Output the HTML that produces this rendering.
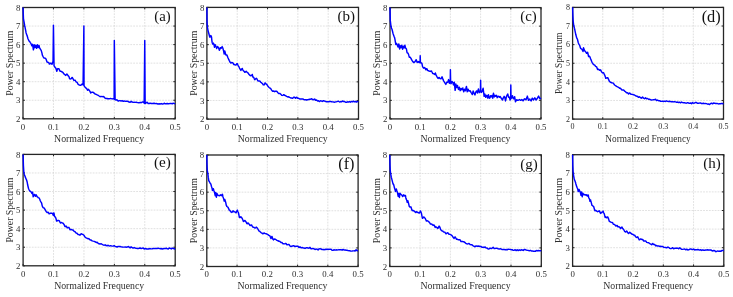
<!DOCTYPE html>
<html><head><meta charset="utf-8"><style>
html,body{margin:0;padding:0;background:#fff;}
svg{display:block;will-change:transform;}
.g{stroke:#cccccc;stroke-width:0.6;stroke-dasharray:1.8 1.1;fill:none;}
.t{stroke:#222;stroke-width:1.0;}
.bx{fill:none;stroke:#262626;stroke-width:1.3;}
.c{fill:none;stroke:#0000ff;stroke-width:1.45;stroke-linejoin:round;}
text{font-family:"Liberation Serif",serif;fill:#2e2e2e;}
.pl{fill:#111;}
</style></head><body>
<svg width="733" height="297" viewBox="0 0 733 297">
<rect width="733" height="297" fill="#fff"/>
<line x1="53.44" y1="7.50" x2="53.44" y2="118.80" class="g"/>
<line x1="83.88" y1="7.50" x2="83.88" y2="118.80" class="g"/>
<line x1="114.32" y1="7.50" x2="114.32" y2="118.80" class="g"/>
<line x1="144.76" y1="7.50" x2="144.76" y2="118.80" class="g"/>
<line x1="23.00" y1="100.25" x2="175.20" y2="100.25" class="g"/>
<line x1="23.00" y1="81.70" x2="175.20" y2="81.70" class="g"/>
<line x1="23.00" y1="63.15" x2="175.20" y2="63.15" class="g"/>
<line x1="23.00" y1="44.60" x2="175.20" y2="44.60" class="g"/>
<line x1="23.00" y1="26.05" x2="175.20" y2="26.05" class="g"/>
<line x1="23.00" y1="118.80" x2="23.00" y2="116.90" class="t"/>
<line x1="23.00" y1="7.50" x2="23.00" y2="9.40" class="t"/>
<line x1="53.44" y1="118.80" x2="53.44" y2="116.90" class="t"/>
<line x1="53.44" y1="7.50" x2="53.44" y2="9.40" class="t"/>
<line x1="83.88" y1="118.80" x2="83.88" y2="116.90" class="t"/>
<line x1="83.88" y1="7.50" x2="83.88" y2="9.40" class="t"/>
<line x1="114.32" y1="118.80" x2="114.32" y2="116.90" class="t"/>
<line x1="114.32" y1="7.50" x2="114.32" y2="9.40" class="t"/>
<line x1="144.76" y1="118.80" x2="144.76" y2="116.90" class="t"/>
<line x1="144.76" y1="7.50" x2="144.76" y2="9.40" class="t"/>
<line x1="175.20" y1="118.80" x2="175.20" y2="116.90" class="t"/>
<line x1="175.20" y1="7.50" x2="175.20" y2="9.40" class="t"/>
<line x1="23.00" y1="118.80" x2="24.90" y2="118.80" class="t"/>
<line x1="175.20" y1="118.80" x2="173.30" y2="118.80" class="t"/>
<line x1="23.00" y1="100.25" x2="24.90" y2="100.25" class="t"/>
<line x1="175.20" y1="100.25" x2="173.30" y2="100.25" class="t"/>
<line x1="23.00" y1="81.70" x2="24.90" y2="81.70" class="t"/>
<line x1="175.20" y1="81.70" x2="173.30" y2="81.70" class="t"/>
<line x1="23.00" y1="63.15" x2="24.90" y2="63.15" class="t"/>
<line x1="175.20" y1="63.15" x2="173.30" y2="63.15" class="t"/>
<line x1="23.00" y1="44.60" x2="24.90" y2="44.60" class="t"/>
<line x1="175.20" y1="44.60" x2="173.30" y2="44.60" class="t"/>
<line x1="23.00" y1="26.05" x2="24.90" y2="26.05" class="t"/>
<line x1="175.20" y1="26.05" x2="173.30" y2="26.05" class="t"/>
<line x1="23.00" y1="7.50" x2="24.90" y2="7.50" class="t"/>
<line x1="175.20" y1="7.50" x2="173.30" y2="7.50" class="t"/>
<rect x="23.00" y="7.50" width="152.20" height="111.30" class="bx"/>
<polyline class="c" points="23.00,7.50 23.49,19.26 24.00,21.68 24.70,25.69 25.00,27.02 25.80,31.21 26.00,32.43 26.80,34.99 27.01,35.30 27.99,38.71 28.01,38.74 29.01,40.96 29.09,41.02 30.01,41.97 30.21,42.37 31.01,43.61 31.01,43.62 31.80,45.87 32.01,45.43 32.59,44.32 33.01,47.27 33.41,49.82 34.01,45.80 34.20,44.77 34.99,47.66 35.02,47.62 35.78,45.16 36.02,45.97 36.61,48.35 37.02,46.69 37.40,44.83 38.02,46.88 38.19,47.62 39.01,45.50 39.02,45.54 39.59,47.85 40.02,48.52 40.41,49.16 41.02,50.20 41.20,50.40 41.99,53.11 42.02,53.27 42.39,55.27 43.03,56.46 43.21,56.87 44.03,57.96 44.80,58.16 45.03,58.12 46.03,59.06 46.50,60.41 47.03,62.01 48.03,62.42 48.60,62.37 49.03,63.16 49.33,64.03 50.04,63.74 50.70,63.15 51.04,63.37 52.01,64.33 52.04,64.26 52.71,61.98 53.04,62.21 53.44,25.12 54.04,65.66 54.11,65.75 55.04,67.37 55.42,67.70 56.04,68.73 56.12,69.00 56.82,71.37 57.04,70.57 57.43,68.94 58.05,68.60 58.83,68.66 59.05,69.13 60.05,71.26 60.14,71.32 61.05,71.33 61.54,71.80 62.05,71.81 62.82,72.31 63.05,72.82 64.05,74.00 64.22,74.19 65.06,74.78 65.52,75.44 66.06,75.17 66.92,74.01 67.06,74.16 68.06,75.63 68.23,75.91 68.93,76.49 69.06,76.91 69.54,78.65 70.06,78.99 70.94,78.89 71.06,78.71 72.06,77.56 72.22,77.44 73.07,78.89 73.62,79.98 74.07,80.40 74.93,80.17 75.07,80.22 76.07,81.83 76.33,81.95 77.07,82.23 77.64,83.28 78.07,84.28 79.04,84.86 79.07,84.83 80.07,85.23 80.35,85.38 81.08,85.08 81.75,84.19 82.08,84.24 82.75,84.51 83.08,84.79 83.88,26.05 84.03,85.67 84.08,85.71 85.04,87.09 85.08,87.16 86.08,88.21 86.53,88.41 87.08,89.24 87.53,90.27 88.09,89.91 88.54,89.37 89.09,90.14 89.63,90.95 90.09,91.61 90.64,93.05 91.09,92.68 91.16,92.51 92.09,92.32 92.16,92.33 93.09,92.24 94.09,93.12 94.14,93.14 95.09,94.04 96.10,94.17 96.15,94.22 97.10,94.93 98.10,95.23 98.16,95.29 99.10,96.00 100.10,96.69 100.26,96.65 101.10,96.37 102.10,96.68 102.27,96.63 103.11,96.48 104.11,96.99 104.24,97.12 105.11,98.18 106.11,98.57 106.25,98.54 107.11,98.42 107.74,98.86 108.11,98.68 108.75,98.64 109.11,98.82 110.11,98.58 110.36,98.54 111.12,98.63 112.12,98.90 112.37,98.93 113.12,98.68 113.35,98.69 114.12,99.15 114.32,40.52 115.12,99.64 115.35,99.74 116.12,100.00 117.12,99.81 117.36,100.16 118.12,101.18 119.13,100.61 119.46,100.65 120.13,100.61 121.13,101.12 121.47,100.91 122.13,100.69 123.13,101.31 123.45,101.24 124.13,100.95 125.13,101.39 126.14,101.22 127.10,101.14 127.14,101.13 128.14,101.51 129.14,102.04 130.14,102.35 131.06,101.41 131.14,101.33 132.14,102.06 133.14,102.35 134.15,102.16 135.02,102.34 135.15,102.37 136.15,102.12 137.15,102.50 138.15,102.60 138.67,102.78 139.15,102.85 140.15,102.35 141.16,102.75 142.16,102.09 142.32,102.02 143.16,101.94 144.16,103.14 144.76,40.52 145.16,103.63 146.16,102.81 146.28,102.75 147.16,102.24 148.16,103.45 149.17,103.58 150.17,103.02 150.24,103.06 151.17,103.54 152.17,103.48 153.17,103.48 153.89,103.31 154.17,103.26 155.17,103.65 156.17,103.53 157.18,103.77 157.85,103.98 158.18,104.03 159.18,103.81 160.18,103.96 161.18,103.60 161.50,103.70 162.18,103.98 163.18,104.02 164.19,103.25 165.19,103.78 165.46,103.79 166.19,103.75 167.19,103.52 168.19,103.77 169.11,103.67 169.19,103.66 170.19,103.42 171.19,103.44 172.20,103.86 173.20,103.20 174.20,103.62 175.20,103.73"/>
<text x="20.40" y="121.90" style="font-size:8.8px" text-anchor="end">2</text>
<text x="20.40" y="103.35" style="font-size:8.8px" text-anchor="end">3</text>
<text x="20.40" y="84.80" style="font-size:8.8px" text-anchor="end">4</text>
<text x="20.40" y="66.25" style="font-size:8.8px" text-anchor="end">5</text>
<text x="20.40" y="47.70" style="font-size:8.8px" text-anchor="end">6</text>
<text x="20.40" y="29.15" style="font-size:8.8px" text-anchor="end">7</text>
<text x="20.40" y="10.60" style="font-size:8.8px" text-anchor="end">8</text>
<text x="23.00" y="129.68" style="font-size:8.8px" text-anchor="middle">0</text>
<text x="53.44" y="129.68" style="font-size:8.8px" text-anchor="middle">0.1</text>
<text x="83.88" y="129.68" style="font-size:8.8px" text-anchor="middle">0.2</text>
<text x="114.32" y="129.68" style="font-size:8.8px" text-anchor="middle">0.3</text>
<text x="144.76" y="129.68" style="font-size:8.8px" text-anchor="middle">0.4</text>
<text x="175.20" y="129.68" style="font-size:8.8px" text-anchor="middle">0.5</text>
<text x="99.10" y="141.50" style="font-size:9.8px" text-anchor="middle">Normalized Frequency</text>
<text transform="translate(12.80,63.15) rotate(-90)" style="font-size:9.8px" text-anchor="middle">Power Spectrum</text>
<text x="170.79" y="20.94" class="pl" style="font-size:14.8px" text-anchor="end">(a)</text>
<line x1="237.22" y1="7.40" x2="237.22" y2="119.10" class="g"/>
<line x1="267.54" y1="7.40" x2="267.54" y2="119.10" class="g"/>
<line x1="297.86" y1="7.40" x2="297.86" y2="119.10" class="g"/>
<line x1="328.18" y1="7.40" x2="328.18" y2="119.10" class="g"/>
<line x1="206.90" y1="100.48" x2="358.50" y2="100.48" class="g"/>
<line x1="206.90" y1="81.87" x2="358.50" y2="81.87" class="g"/>
<line x1="206.90" y1="63.25" x2="358.50" y2="63.25" class="g"/>
<line x1="206.90" y1="44.63" x2="358.50" y2="44.63" class="g"/>
<line x1="206.90" y1="26.02" x2="358.50" y2="26.02" class="g"/>
<line x1="206.90" y1="119.10" x2="206.90" y2="117.20" class="t"/>
<line x1="206.90" y1="7.40" x2="206.90" y2="9.30" class="t"/>
<line x1="237.22" y1="119.10" x2="237.22" y2="117.20" class="t"/>
<line x1="237.22" y1="7.40" x2="237.22" y2="9.30" class="t"/>
<line x1="267.54" y1="119.10" x2="267.54" y2="117.20" class="t"/>
<line x1="267.54" y1="7.40" x2="267.54" y2="9.30" class="t"/>
<line x1="297.86" y1="119.10" x2="297.86" y2="117.20" class="t"/>
<line x1="297.86" y1="7.40" x2="297.86" y2="9.30" class="t"/>
<line x1="328.18" y1="119.10" x2="328.18" y2="117.20" class="t"/>
<line x1="328.18" y1="7.40" x2="328.18" y2="9.30" class="t"/>
<line x1="358.50" y1="119.10" x2="358.50" y2="117.20" class="t"/>
<line x1="358.50" y1="7.40" x2="358.50" y2="9.30" class="t"/>
<line x1="206.90" y1="119.10" x2="208.80" y2="119.10" class="t"/>
<line x1="358.50" y1="119.10" x2="356.60" y2="119.10" class="t"/>
<line x1="206.90" y1="100.48" x2="208.80" y2="100.48" class="t"/>
<line x1="358.50" y1="100.48" x2="356.60" y2="100.48" class="t"/>
<line x1="206.90" y1="81.87" x2="208.80" y2="81.87" class="t"/>
<line x1="358.50" y1="81.87" x2="356.60" y2="81.87" class="t"/>
<line x1="206.90" y1="63.25" x2="208.80" y2="63.25" class="t"/>
<line x1="358.50" y1="63.25" x2="356.60" y2="63.25" class="t"/>
<line x1="206.90" y1="44.63" x2="208.80" y2="44.63" class="t"/>
<line x1="358.50" y1="44.63" x2="356.60" y2="44.63" class="t"/>
<line x1="206.90" y1="26.02" x2="208.80" y2="26.02" class="t"/>
<line x1="358.50" y1="26.02" x2="356.60" y2="26.02" class="t"/>
<line x1="206.90" y1="7.40" x2="208.80" y2="7.40" class="t"/>
<line x1="358.50" y1="7.40" x2="356.60" y2="7.40" class="t"/>
<rect x="206.90" y="7.40" width="151.60" height="111.70" class="bx"/>
<polyline class="c" points="206.90,7.40 207.05,22.91 207.39,26.95 207.90,29.78 208.11,30.86 208.89,33.75 208.90,33.78 209.60,36.49 209.89,37.21 210.39,36.14 210.89,35.50 211.51,36.93 211.81,40.06 211.89,40.55 212.12,42.19 212.69,44.10 212.88,44.01 213.30,43.06 213.88,44.04 213.90,44.10 214.51,47.29 214.88,45.84 215.21,44.63 215.88,46.43 216.09,46.65 216.69,48.63 216.87,47.93 217.60,46.47 217.87,47.03 218.51,47.82 218.87,48.73 219.39,50.22 219.87,49.20 220.30,47.77 220.86,47.78 221.21,48.19 221.86,47.04 222.09,46.46 222.70,47.71 222.86,48.14 223.61,50.97 223.86,52.38 224.21,53.97 224.79,50.91 224.85,51.10 225.79,54.82 225.85,54.92 226.85,54.95 227.00,55.17 227.84,57.46 228.61,59.17 228.84,59.64 229.31,60.62 229.84,61.60 230.09,62.29 230.84,63.08 231.61,62.48 231.83,62.50 232.10,62.62 232.83,62.64 233.10,63.39 233.83,64.50 234.10,64.36 234.83,64.73 235.82,65.06 236.10,64.84 236.82,63.62 237.49,63.61 237.82,64.70 238.19,65.60 238.82,66.54 239.49,68.02 239.81,68.55 240.81,70.29 240.89,70.40 241.81,68.92 242.19,68.41 242.81,69.86 243.50,70.98 243.80,70.94 244.80,72.34 244.89,72.35 245.80,71.63 246.19,71.33 246.79,72.02 247.59,72.58 247.79,72.51 248.79,74.19 248.89,74.25 249.79,75.21 250.29,75.56 250.78,75.72 251.59,75.59 251.78,75.10 252.29,74.44 252.78,76.55 252.99,77.17 253.78,77.50 254.29,78.85 254.77,79.75 255.72,78.82 255.77,78.69 256.29,78.21 256.77,78.68 257.69,80.55 257.77,80.72 258.76,81.01 258.99,81.13 259.76,81.08 260.38,81.64 260.76,82.25 261.69,82.95 261.76,83.02 262.75,83.85 263.11,84.70 263.75,84.91 264.39,84.69 264.75,83.76 265.11,82.81 265.74,83.68 266.39,84.04 266.74,84.29 267.74,85.95 267.81,86.04 268.74,87.12 269.09,87.52 269.73,87.98 270.09,88.13 270.73,88.56 271.60,90.03 271.73,90.24 272.60,91.22 272.73,91.18 273.69,91.03 273.72,91.10 274.70,91.66 274.72,91.60 275.70,91.14 275.72,91.16 276.72,91.20 277.21,91.81 277.71,92.49 278.70,93.51 278.71,93.52 279.71,93.41 280.21,93.70 280.71,94.12 281.70,95.20 281.70,95.20 282.70,95.40 283.31,94.99 283.70,94.64 284.69,95.31 284.79,95.32 285.69,95.74 286.31,96.21 286.69,96.45 287.69,96.98 287.79,96.96 288.68,96.75 289.31,97.22 289.68,97.45 290.68,97.94 290.80,97.95 291.68,97.96 292.31,98.29 292.67,98.23 293.67,97.35 293.89,97.17 294.67,97.29 295.40,98.18 295.67,98.30 296.66,97.23 296.89,97.35 297.66,98.22 298.41,98.27 298.66,98.29 299.66,99.02 299.89,99.06 300.65,98.98 301.41,99.00 301.65,98.95 302.65,98.99 302.89,98.99 303.64,99.40 304.50,99.79 304.64,99.77 305.64,99.70 305.99,99.75 306.64,100.00 307.50,99.70 307.63,99.66 308.63,99.55 308.99,99.54 309.63,99.27 310.50,99.13 310.63,99.17 311.62,98.80 311.99,99.16 312.62,99.56 313.60,99.70 313.62,99.71 314.62,99.04 315.11,99.60 315.61,100.28 316.60,99.98 316.61,99.97 317.61,100.99 318.11,100.95 318.61,100.76 319.60,101.59 320.60,100.67 321.60,101.07 322.12,101.24 322.59,101.42 323.59,100.66 324.59,101.09 325.15,101.29 325.59,101.45 326.58,101.84 327.58,101.73 328.18,101.82 328.58,101.82 329.58,101.46 330.57,101.38 331.21,101.65 331.57,101.84 332.57,101.86 333.57,101.92 334.24,102.14 334.56,102.21 335.56,101.90 336.56,101.67 337.28,101.45 337.56,101.39 338.55,101.25 339.55,102.00 340.31,101.71 340.55,101.59 341.54,101.85 342.54,100.98 343.34,101.48 343.54,101.64 344.54,101.59 345.53,102.17 346.37,102.24 346.53,102.22 347.53,101.84 348.53,101.96 349.40,101.70 349.52,101.67 350.52,102.21 351.52,101.45 352.44,101.85 352.52,101.89 353.51,101.12 354.51,101.82 355.47,101.46 355.51,101.44 356.51,102.10 357.50,101.40 358.50,101.69"/>
<text x="204.30" y="122.20" style="font-size:8.8px" text-anchor="end">2</text>
<text x="204.30" y="103.58" style="font-size:8.8px" text-anchor="end">3</text>
<text x="204.30" y="84.96" style="font-size:8.8px" text-anchor="end">4</text>
<text x="204.30" y="66.35" style="font-size:8.8px" text-anchor="end">5</text>
<text x="204.30" y="47.73" style="font-size:8.8px" text-anchor="end">6</text>
<text x="204.30" y="29.11" style="font-size:8.8px" text-anchor="end">7</text>
<text x="204.30" y="10.50" style="font-size:8.8px" text-anchor="end">8</text>
<text x="206.90" y="129.98" style="font-size:8.8px" text-anchor="middle">0</text>
<text x="237.22" y="129.98" style="font-size:8.8px" text-anchor="middle">0.1</text>
<text x="267.54" y="129.98" style="font-size:8.8px" text-anchor="middle">0.2</text>
<text x="297.86" y="129.98" style="font-size:8.8px" text-anchor="middle">0.3</text>
<text x="328.18" y="129.98" style="font-size:8.8px" text-anchor="middle">0.4</text>
<text x="358.50" y="129.98" style="font-size:8.8px" text-anchor="middle">0.5</text>
<text x="282.70" y="141.80" style="font-size:9.8px" text-anchor="middle">Normalized Frequency</text>
<text transform="translate(196.70,63.25) rotate(-90)" style="font-size:9.8px" text-anchor="middle">Power Spectrum</text>
<text x="355.00" y="20.90" class="pl" style="font-size:15.0px" text-anchor="end">(b)</text>
<line x1="420.20" y1="7.60" x2="420.20" y2="118.90" class="g"/>
<line x1="450.40" y1="7.60" x2="450.40" y2="118.90" class="g"/>
<line x1="480.60" y1="7.60" x2="480.60" y2="118.90" class="g"/>
<line x1="510.80" y1="7.60" x2="510.80" y2="118.90" class="g"/>
<line x1="390.00" y1="100.35" x2="541.00" y2="100.35" class="g"/>
<line x1="390.00" y1="81.80" x2="541.00" y2="81.80" class="g"/>
<line x1="390.00" y1="63.25" x2="541.00" y2="63.25" class="g"/>
<line x1="390.00" y1="44.70" x2="541.00" y2="44.70" class="g"/>
<line x1="390.00" y1="26.15" x2="541.00" y2="26.15" class="g"/>
<line x1="390.00" y1="118.90" x2="390.00" y2="117.00" class="t"/>
<line x1="390.00" y1="7.60" x2="390.00" y2="9.50" class="t"/>
<line x1="420.20" y1="118.90" x2="420.20" y2="117.00" class="t"/>
<line x1="420.20" y1="7.60" x2="420.20" y2="9.50" class="t"/>
<line x1="450.40" y1="118.90" x2="450.40" y2="117.00" class="t"/>
<line x1="450.40" y1="7.60" x2="450.40" y2="9.50" class="t"/>
<line x1="480.60" y1="118.90" x2="480.60" y2="117.00" class="t"/>
<line x1="480.60" y1="7.60" x2="480.60" y2="9.50" class="t"/>
<line x1="510.80" y1="118.90" x2="510.80" y2="117.00" class="t"/>
<line x1="510.80" y1="7.60" x2="510.80" y2="9.50" class="t"/>
<line x1="541.00" y1="118.90" x2="541.00" y2="117.00" class="t"/>
<line x1="541.00" y1="7.60" x2="541.00" y2="9.50" class="t"/>
<line x1="390.00" y1="118.90" x2="391.90" y2="118.90" class="t"/>
<line x1="541.00" y1="118.90" x2="539.10" y2="118.90" class="t"/>
<line x1="390.00" y1="100.35" x2="391.90" y2="100.35" class="t"/>
<line x1="541.00" y1="100.35" x2="539.10" y2="100.35" class="t"/>
<line x1="390.00" y1="81.80" x2="391.90" y2="81.80" class="t"/>
<line x1="541.00" y1="81.80" x2="539.10" y2="81.80" class="t"/>
<line x1="390.00" y1="63.25" x2="391.90" y2="63.25" class="t"/>
<line x1="541.00" y1="63.25" x2="539.10" y2="63.25" class="t"/>
<line x1="390.00" y1="44.70" x2="391.90" y2="44.70" class="t"/>
<line x1="541.00" y1="44.70" x2="539.10" y2="44.70" class="t"/>
<line x1="390.00" y1="26.15" x2="391.90" y2="26.15" class="t"/>
<line x1="541.00" y1="26.15" x2="539.10" y2="26.15" class="t"/>
<line x1="390.00" y1="7.60" x2="391.90" y2="7.60" class="t"/>
<line x1="541.00" y1="7.60" x2="539.10" y2="7.60" class="t"/>
<rect x="390.00" y="7.60" width="151.00" height="111.30" class="bx"/>
<polyline class="c" points="390.00,7.60 390.30,20.64 390.91,25.94 391.00,26.56 391.51,28.39 392.00,29.25 392.39,30.77 393.00,33.33 393.20,34.04 393.99,36.22 394.00,36.25 394.59,37.63 395.00,39.72 395.19,40.91 395.80,44.43 396.00,44.40 396.49,43.43 397.00,44.35 397.31,45.28 398.00,46.98 398.00,46.98 398.79,43.88 399.00,44.65 399.60,49.00 400.00,47.38 400.30,45.79 401.00,47.47 401.08,47.65 401.78,45.21 402.00,46.26 402.59,49.20 403.00,47.64 403.38,46.19 404.00,47.73 404.10,47.93 404.89,45.28 405.00,45.75 405.58,48.17 406.00,48.39 406.40,48.88 407.00,52.28 407.09,52.73 407.88,53.07 408.00,53.22 408.69,54.83 409.00,56.05 409.39,57.36 410.00,57.30 410.17,57.19 410.90,58.22 411.00,58.34 411.68,59.92 412.00,60.39 412.38,60.96 413.00,61.81 413.98,62.58 414.00,62.57 415.00,61.66 415.19,61.45 416.00,59.89 416.27,59.76 417.00,62.02 417.18,62.43 418.00,61.81 418.18,61.59 418.99,62.50 419.00,62.48 419.60,61.63 420.00,62.58 420.05,62.65 420.20,55.75 420.44,62.56 421.00,62.80 421.29,62.86 421.89,63.34 422.00,63.82 422.59,66.70 423.00,67.29 423.58,68.15 424.00,67.99 424.58,67.55 425.00,67.97 425.67,69.59 426.00,69.79 426.57,68.67 427.00,68.88 427.57,70.33 428.00,70.63 428.66,70.79 429.00,71.12 429.68,71.16 430.00,71.12 430.68,71.41 431.00,71.16 431.56,71.02 432.00,72.00 432.67,73.37 433.00,73.60 433.76,73.72 434.00,73.83 434.67,74.39 435.00,73.77 435.36,72.93 436.00,75.02 436.06,75.24 436.96,76.73 437.00,76.79 438.00,78.33 438.05,78.39 439.00,77.48 439.17,77.44 440.00,78.47 440.07,78.54 441.00,78.74 441.07,78.71 442.00,76.90 442.06,76.80 443.00,79.41 443.06,79.60 443.76,81.06 444.00,81.44 444.75,82.55 445.00,83.04 445.87,84.37 446.00,83.92 446.75,82.14 447.00,82.52 447.77,82.37 448.00,81.41 448.56,79.59 449.00,81.25 449.46,83.24 450.00,82.93 450.25,82.52 450.40,69.83 450.64,82.33 451.00,83.41 451.06,83.66 451.97,81.50 452.00,81.56 452.76,82.45 453.00,83.11 453.45,84.90 454.00,83.33 454.27,82.28 455.00,89.05 455.14,90.34 455.87,84.08 456.00,84.62 456.65,87.47 457.00,86.39 457.47,85.43 458.00,87.89 458.46,89.41 459.00,88.03 459.34,87.24 460.00,89.95 460.15,90.66 461.00,88.61 461.06,88.42 461.97,89.75 462.00,89.64 462.84,87.93 463.00,88.76 463.75,91.83 464.00,90.87 464.56,89.15 465.00,90.13 465.44,90.70 466.00,88.05 466.44,86.42 467.00,90.22 467.25,91.84 468.00,89.26 468.04,89.14 469.00,91.08 469.03,91.11 470.00,90.73 470.24,90.90 471.00,92.33 471.36,92.93 472.00,94.00 472.36,94.57 473.00,91.61 473.14,91.01 473.96,93.02 474.00,93.10 474.95,94.93 475.00,94.78 475.83,92.00 476.00,91.78 476.64,90.90 477.00,91.84 477.55,93.02 478.00,90.69 478.43,88.99 479.00,91.25 479.45,92.63 480.00,91.80 480.45,91.19 480.60,80.23 480.84,91.16 481.00,91.49 481.45,92.39 482.00,91.54 482.23,91.19 483.00,88.61 483.14,88.22 484.00,95.33 484.13,96.39 484.95,94.07 485.00,94.30 485.73,97.30 486.00,96.75 486.73,95.32 487.00,96.08 487.64,98.10 488.00,96.51 488.42,94.66 489.00,96.99 489.33,98.30 489.93,97.82 490.00,97.62 490.63,95.70 491.00,96.16 491.44,96.81 492.00,95.51 492.05,95.39 492.74,98.19 493.00,96.25 493.44,93.27 494.00,96.01 494.22,96.96 495.00,95.38 495.04,95.31 495.73,96.28 496.00,95.93 496.42,95.30 497.00,96.92 497.24,97.65 498.00,96.27 498.03,96.21 498.72,96.41 499.00,96.64 499.41,97.29 500.00,96.76 500.23,96.50 501.00,97.96 501.02,98.00 501.83,98.99 502.00,99.39 502.53,100.04 503.00,98.63 503.31,97.84 504.00,96.63 504.13,96.37 504.82,97.68 505.00,98.41 505.51,100.92 506.00,98.80 506.30,97.09 507.00,95.30 507.12,95.09 507.81,94.00 508.00,94.81 508.50,97.22 509.00,97.24 509.29,97.08 510.00,99.62 510.11,100.00 510.65,98.68 510.80,84.94 511.00,96.30 511.04,98.66 511.62,97.81 512.00,96.78 512.43,95.65 513.00,97.73 513.22,98.48 513.91,98.83 514.00,98.51 514.64,96.70 515.00,98.95 515.51,101.77 516.00,100.85 516.72,99.73 517.00,99.96 518.00,100.34 518.02,100.36 519.00,99.87 519.32,99.60 520.00,99.83 520.52,100.33 521.00,100.23 521.82,99.49 522.00,99.64 523.00,100.77 523.12,100.83 524.00,99.39 524.72,98.68 525.00,98.93 526.00,99.84 526.02,99.86 527.00,97.09 527.32,96.11 528.00,98.45 528.50,100.37 529.00,99.92 529.80,99.04 530.00,99.40 531.00,100.83 531.09,100.96 532.00,98.65 532.30,98.16 533.00,99.24 533.60,99.88 534.00,99.17 534.81,97.78 535.00,98.13 536.00,99.88 536.11,100.02 537.00,98.80 537.41,98.36 538.00,97.14 538.61,96.02 539.00,96.91 539.91,98.81 540.00,98.74 541.00,98.10"/>
<text x="387.40" y="122.00" style="font-size:8.8px" text-anchor="end">2</text>
<text x="387.40" y="103.45" style="font-size:8.8px" text-anchor="end">3</text>
<text x="387.40" y="84.90" style="font-size:8.8px" text-anchor="end">4</text>
<text x="387.40" y="66.35" style="font-size:8.8px" text-anchor="end">5</text>
<text x="387.40" y="47.80" style="font-size:8.8px" text-anchor="end">6</text>
<text x="387.40" y="29.25" style="font-size:8.8px" text-anchor="end">7</text>
<text x="387.40" y="10.70" style="font-size:8.8px" text-anchor="end">8</text>
<text x="390.00" y="129.78" style="font-size:8.8px" text-anchor="middle">0</text>
<text x="420.20" y="129.78" style="font-size:8.8px" text-anchor="middle">0.1</text>
<text x="450.40" y="129.78" style="font-size:8.8px" text-anchor="middle">0.2</text>
<text x="480.60" y="129.78" style="font-size:8.8px" text-anchor="middle">0.3</text>
<text x="510.80" y="129.78" style="font-size:8.8px" text-anchor="middle">0.4</text>
<text x="541.00" y="129.78" style="font-size:8.8px" text-anchor="middle">0.5</text>
<text x="465.50" y="141.60" style="font-size:9.8px" text-anchor="middle">Normalized Frequency</text>
<text transform="translate(379.80,63.25) rotate(-90)" style="font-size:9.8px" text-anchor="middle">Power Spectrum</text>
<text x="536.79" y="20.94" class="pl" style="font-size:14.8px" text-anchor="end">(c)</text>
<line x1="602.78" y1="7.40" x2="602.78" y2="119.10" class="g"/>
<line x1="632.96" y1="7.40" x2="632.96" y2="119.10" class="g"/>
<line x1="663.14" y1="7.40" x2="663.14" y2="119.10" class="g"/>
<line x1="693.32" y1="7.40" x2="693.32" y2="119.10" class="g"/>
<line x1="572.60" y1="100.48" x2="723.50" y2="100.48" class="g"/>
<line x1="572.60" y1="81.87" x2="723.50" y2="81.87" class="g"/>
<line x1="572.60" y1="63.25" x2="723.50" y2="63.25" class="g"/>
<line x1="572.60" y1="44.63" x2="723.50" y2="44.63" class="g"/>
<line x1="572.60" y1="26.02" x2="723.50" y2="26.02" class="g"/>
<line x1="572.60" y1="119.10" x2="572.60" y2="117.20" class="t"/>
<line x1="572.60" y1="7.40" x2="572.60" y2="9.30" class="t"/>
<line x1="602.78" y1="119.10" x2="602.78" y2="117.20" class="t"/>
<line x1="602.78" y1="7.40" x2="602.78" y2="9.30" class="t"/>
<line x1="632.96" y1="119.10" x2="632.96" y2="117.20" class="t"/>
<line x1="632.96" y1="7.40" x2="632.96" y2="9.30" class="t"/>
<line x1="663.14" y1="119.10" x2="663.14" y2="117.20" class="t"/>
<line x1="663.14" y1="7.40" x2="663.14" y2="9.30" class="t"/>
<line x1="693.32" y1="119.10" x2="693.32" y2="117.20" class="t"/>
<line x1="693.32" y1="7.40" x2="693.32" y2="9.30" class="t"/>
<line x1="723.50" y1="119.10" x2="723.50" y2="117.20" class="t"/>
<line x1="723.50" y1="7.40" x2="723.50" y2="9.30" class="t"/>
<line x1="572.60" y1="119.10" x2="574.50" y2="119.10" class="t"/>
<line x1="723.50" y1="119.10" x2="721.60" y2="119.10" class="t"/>
<line x1="572.60" y1="100.48" x2="574.50" y2="100.48" class="t"/>
<line x1="723.50" y1="100.48" x2="721.60" y2="100.48" class="t"/>
<line x1="572.60" y1="81.87" x2="574.50" y2="81.87" class="t"/>
<line x1="723.50" y1="81.87" x2="721.60" y2="81.87" class="t"/>
<line x1="572.60" y1="63.25" x2="574.50" y2="63.25" class="t"/>
<line x1="723.50" y1="63.25" x2="721.60" y2="63.25" class="t"/>
<line x1="572.60" y1="44.63" x2="574.50" y2="44.63" class="t"/>
<line x1="723.50" y1="44.63" x2="721.60" y2="44.63" class="t"/>
<line x1="572.60" y1="26.02" x2="574.50" y2="26.02" class="t"/>
<line x1="723.50" y1="26.02" x2="721.60" y2="26.02" class="t"/>
<line x1="572.60" y1="7.40" x2="574.50" y2="7.40" class="t"/>
<line x1="723.50" y1="7.40" x2="721.60" y2="7.40" class="t"/>
<rect x="572.60" y="7.40" width="150.90" height="111.70" class="bx"/>
<polyline class="c" points="572.60,7.40 572.90,15.82 573.20,21.26 573.60,24.51 573.69,25.10 574.41,28.20 574.60,28.76 575.01,30.86 575.60,33.65 575.71,34.28 576.40,36.75 576.60,37.65 577.10,38.53 577.60,39.85 578.21,42.49 578.60,43.51 579.21,44.55 579.60,45.14 580.30,47.43 580.59,48.34 581.41,48.80 581.59,48.84 582.50,50.25 582.59,50.55 583.01,51.55 583.49,47.77 583.59,47.88 584.59,50.72 584.61,50.75 585.59,51.64 585.70,51.89 586.59,53.33 586.81,52.87 587.59,52.22 587.90,53.52 588.59,56.48 588.90,56.42 589.59,56.16 590.01,57.17 590.59,58.76 591.10,59.90 591.59,61.20 592.22,62.58 592.59,63.15 593.21,64.20 593.59,64.58 594.59,64.95 594.90,65.35 595.58,66.42 596.50,66.76 596.58,66.75 597.58,69.44 598.58,69.21 598.58,69.21 599.58,70.27 600.21,70.05 600.58,69.86 601.58,71.83 601.63,71.80 602.42,72.90 602.58,72.77 603.53,72.65 603.58,72.70 604.58,75.01 604.71,75.03 605.58,77.63 605.71,78.24 606.52,78.03 606.58,78.05 607.58,77.63 607.73,77.63 608.58,79.40 608.82,80.13 609.58,81.57 610.02,81.95 610.57,82.29 611.57,82.71 611.83,82.78 612.57,82.89 613.57,83.47 613.61,83.53 614.57,84.98 615.33,85.52 615.57,85.66 616.57,86.37 617.12,86.66 617.57,86.89 618.57,87.34 618.93,87.54 619.57,88.21 620.57,88.28 620.65,88.46 621.57,89.83 622.43,90.02 622.57,90.05 623.57,90.02 624.24,90.65 624.57,91.11 625.45,91.56 625.56,91.69 626.53,92.85 626.56,92.85 627.56,92.83 628.34,93.78 628.56,94.00 629.56,92.95 630.12,93.42 630.56,93.97 631.56,94.26 631.93,94.35 632.56,94.38 633.56,94.79 633.62,94.80 634.56,95.03 635.43,95.71 635.56,95.80 636.56,96.18 637.25,96.30 637.56,96.39 638.56,97.36 638.97,97.17 639.56,96.78 639.75,96.98 640.55,97.79 641.55,98.19 642.55,97.07 643.43,98.01 643.55,98.14 644.55,98.75 645.55,97.76 646.55,98.82 647.14,98.62 647.55,98.44 648.55,99.27 649.55,99.14 650.55,99.79 650.86,99.85 651.55,100.04 652.55,99.89 653.55,99.75 654.55,99.62 654.57,99.61 655.55,99.17 656.54,100.61 657.54,100.00 658.25,100.53 658.54,100.73 659.54,100.67 660.54,101.25 661.54,101.35 661.96,101.28 662.54,101.20 663.54,101.44 664.54,101.12 665.54,101.47 665.68,101.38 666.54,100.87 667.54,101.36 668.54,101.46 669.36,101.26 669.54,101.21 670.54,101.48 671.53,101.72 672.53,101.79 673.07,101.82 673.53,101.90 674.53,101.64 675.53,101.89 676.53,102.19 676.75,102.19 677.53,102.07 678.53,102.53 679.53,102.17 680.46,102.78 680.53,102.84 681.53,102.05 682.53,102.62 683.53,102.74 684.18,102.75 684.53,102.74 685.53,103.04 686.08,103.14 686.52,103.17 687.52,102.69 688.52,103.05 689.52,103.39 690.30,103.04 690.52,102.94 691.52,103.65 692.52,102.54 693.32,103.03 693.52,103.16 694.52,103.14 695.52,102.47 696.52,102.56 697.52,103.29 698.52,103.18 699.52,103.08 699.96,103.02 700.52,102.95 701.51,103.59 702.51,103.56 703.51,103.26 704.51,103.63 705.51,103.53 706.51,103.63 706.60,103.69 707.51,104.15 708.51,104.01 709.51,104.52 710.51,103.71 711.51,103.14 712.51,103.87 713.51,103.07 713.54,103.07 714.51,103.18 715.51,103.55 716.50,103.58 717.50,103.58 718.50,103.92 719.50,103.77 720.50,103.74 721.50,103.57 722.50,103.55 723.50,104.07"/>
<text x="570.00" y="121.92" style="font-size:8.0px" text-anchor="end">2</text>
<text x="570.00" y="103.30" style="font-size:8.0px" text-anchor="end">3</text>
<text x="570.00" y="84.68" style="font-size:8.0px" text-anchor="end">4</text>
<text x="570.00" y="66.07" style="font-size:8.0px" text-anchor="end">5</text>
<text x="570.00" y="47.45" style="font-size:8.0px" text-anchor="end">6</text>
<text x="570.00" y="28.83" style="font-size:8.0px" text-anchor="end">7</text>
<text x="570.00" y="10.22" style="font-size:8.0px" text-anchor="end">8</text>
<text x="572.60" y="129.44" style="font-size:8.0px" text-anchor="middle">0</text>
<text x="602.78" y="129.44" style="font-size:8.0px" text-anchor="middle">0.1</text>
<text x="632.96" y="129.44" style="font-size:8.0px" text-anchor="middle">0.2</text>
<text x="663.14" y="129.44" style="font-size:8.0px" text-anchor="middle">0.3</text>
<text x="693.32" y="129.44" style="font-size:8.0px" text-anchor="middle">0.4</text>
<text x="723.50" y="129.44" style="font-size:8.0px" text-anchor="middle">0.5</text>
<text x="648.05" y="141.80" style="font-size:9.3px" text-anchor="middle">Normalized Frequency</text>
<text transform="translate(562.40,63.25) rotate(-90)" style="font-size:9.3px" text-anchor="middle">Power Spectrum</text>
<text x="720.76" y="21.52" class="pl" style="font-size:16.4px" text-anchor="end">(d)</text>
<line x1="53.52" y1="154.40" x2="53.52" y2="265.80" class="g"/>
<line x1="83.94" y1="154.40" x2="83.94" y2="265.80" class="g"/>
<line x1="114.36" y1="154.40" x2="114.36" y2="265.80" class="g"/>
<line x1="144.78" y1="154.40" x2="144.78" y2="265.80" class="g"/>
<line x1="23.10" y1="247.23" x2="175.20" y2="247.23" class="g"/>
<line x1="23.10" y1="228.67" x2="175.20" y2="228.67" class="g"/>
<line x1="23.10" y1="210.10" x2="175.20" y2="210.10" class="g"/>
<line x1="23.10" y1="191.53" x2="175.20" y2="191.53" class="g"/>
<line x1="23.10" y1="172.97" x2="175.20" y2="172.97" class="g"/>
<line x1="23.10" y1="265.80" x2="23.10" y2="263.90" class="t"/>
<line x1="23.10" y1="154.40" x2="23.10" y2="156.30" class="t"/>
<line x1="53.52" y1="265.80" x2="53.52" y2="263.90" class="t"/>
<line x1="53.52" y1="154.40" x2="53.52" y2="156.30" class="t"/>
<line x1="83.94" y1="265.80" x2="83.94" y2="263.90" class="t"/>
<line x1="83.94" y1="154.40" x2="83.94" y2="156.30" class="t"/>
<line x1="114.36" y1="265.80" x2="114.36" y2="263.90" class="t"/>
<line x1="114.36" y1="154.40" x2="114.36" y2="156.30" class="t"/>
<line x1="144.78" y1="265.80" x2="144.78" y2="263.90" class="t"/>
<line x1="144.78" y1="154.40" x2="144.78" y2="156.30" class="t"/>
<line x1="175.20" y1="265.80" x2="175.20" y2="263.90" class="t"/>
<line x1="175.20" y1="154.40" x2="175.20" y2="156.30" class="t"/>
<line x1="23.10" y1="265.80" x2="25.00" y2="265.80" class="t"/>
<line x1="175.20" y1="265.80" x2="173.30" y2="265.80" class="t"/>
<line x1="23.10" y1="247.23" x2="25.00" y2="247.23" class="t"/>
<line x1="175.20" y1="247.23" x2="173.30" y2="247.23" class="t"/>
<line x1="23.10" y1="228.67" x2="25.00" y2="228.67" class="t"/>
<line x1="175.20" y1="228.67" x2="173.30" y2="228.67" class="t"/>
<line x1="23.10" y1="210.10" x2="25.00" y2="210.10" class="t"/>
<line x1="175.20" y1="210.10" x2="173.30" y2="210.10" class="t"/>
<line x1="23.10" y1="191.53" x2="25.00" y2="191.53" class="t"/>
<line x1="175.20" y1="191.53" x2="173.30" y2="191.53" class="t"/>
<line x1="23.10" y1="172.97" x2="25.00" y2="172.97" class="t"/>
<line x1="175.20" y1="172.97" x2="173.30" y2="172.97" class="t"/>
<line x1="23.10" y1="154.40" x2="25.00" y2="154.40" class="t"/>
<line x1="175.20" y1="154.40" x2="173.30" y2="154.40" class="t"/>
<rect x="23.10" y="154.40" width="152.10" height="111.40" class="bx"/>
<polyline class="c" points="23.10,154.40 23.40,165.29 23.80,171.62 24.10,173.39 24.41,174.64 25.10,176.56 25.29,177.14 26.10,178.95 26.39,179.57 27.10,181.80 27.21,182.25 27.69,185.02 28.10,186.75 28.61,188.72 29.10,189.79 29.49,190.50 30.10,191.22 30.40,191.21 31.11,191.94 31.28,192.21 31.89,193.52 32.11,192.88 32.59,192.17 33.11,196.11 33.20,196.83 34.08,194.74 34.11,194.76 34.69,194.47 35.11,195.92 35.30,196.30 36.11,194.79 36.18,194.84 37.09,196.59 37.11,196.60 37.98,197.29 38.11,197.65 38.89,197.94 39.11,197.99 39.77,199.27 40.11,200.32 40.68,201.53 41.11,202.17 41.60,203.01 42.11,205.30 42.30,206.15 43.09,207.55 43.11,207.59 43.79,207.98 44.11,208.03 44.39,208.39 45.11,209.70 45.79,210.90 46.12,211.50 47.10,212.47 47.12,212.47 48.12,212.23 48.50,212.76 49.12,213.88 49.81,213.64 50.12,213.28 51.12,213.27 51.21,213.20 52.12,213.19 52.49,213.57 53.12,215.08 53.22,215.18 53.89,212.85 54.12,213.98 54.49,216.04 55.12,216.98 55.89,218.21 56.12,219.09 56.59,221.02 57.12,221.00 57.90,220.40 58.12,220.33 59.12,220.68 59.30,220.70 60.12,222.45 60.61,223.02 61.12,222.41 62.01,222.64 62.13,222.89 63.13,223.22 63.28,223.49 64.13,224.63 64.59,225.77 65.13,226.69 65.99,226.09 66.13,226.07 67.13,227.72 67.30,227.80 68.13,227.35 68.70,227.35 69.13,227.84 70.01,229.66 70.13,229.82 71.13,229.41 71.41,229.52 72.13,229.95 72.68,229.96 73.13,229.95 74.11,231.41 74.13,231.44 75.13,231.60 75.39,232.08 76.13,233.07 76.79,233.20 77.14,233.42 78.10,234.59 78.14,234.64 79.14,234.57 79.50,235.05 80.14,235.02 80.81,234.20 81.14,233.80 82.11,234.13 82.14,234.16 83.14,234.70 83.61,235.00 84.14,235.56 85.14,237.23 85.19,237.26 86.14,237.93 87.14,238.27 87.19,238.36 88.14,238.80 88.69,238.54 89.14,238.88 90.14,239.94 90.21,239.99 91.14,240.09 92.15,240.86 92.21,240.87 93.15,241.13 94.15,241.34 95.15,241.76 95.29,241.86 96.15,242.51 97.15,242.19 98.15,243.41 98.30,243.46 99.15,243.74 100.15,244.14 101.15,243.65 101.31,243.79 102.15,244.42 103.15,244.90 104.15,245.21 104.29,245.17 105.15,244.82 106.15,245.55 107.16,245.81 107.39,245.68 108.16,245.24 109.16,246.03 110.16,245.84 110.41,245.84 111.16,245.84 112.16,246.13 113.16,246.11 113.39,246.02 114.16,245.68 115.16,246.41 116.16,246.74 116.49,246.82 117.16,247.00 118.16,246.48 119.16,246.59 119.50,246.54 120.16,246.48 121.16,246.86 122.17,246.99 122.51,247.06 123.17,247.15 124.17,247.14 125.17,246.97 125.62,247.08 126.17,247.20 127.17,247.09 128.17,246.51 129.17,247.05 129.60,247.37 130.17,247.86 131.17,246.89 132.17,247.52 133.10,248.08 133.17,248.12 134.17,247.60 135.17,248.01 136.17,248.33 136.51,248.37 137.17,248.41 138.18,248.58 139.18,248.29 139.94,248.07 140.18,248.00 141.18,248.52 142.18,248.33 143.18,247.90 143.35,248.09 144.18,248.98 145.18,248.55 146.18,248.79 146.76,248.96 147.18,249.07 148.18,249.05 149.18,248.72 150.16,248.58 150.18,248.58 151.18,248.89 152.18,248.70 153.19,248.48 153.60,248.54 154.19,248.62 155.19,248.44 156.19,248.57 157.19,248.56 158.19,248.13 159.19,248.52 159.99,248.65 160.19,248.68 161.19,248.49 162.19,249.01 163.19,248.83 164.19,248.47 165.19,248.52 166.07,248.26 166.19,248.22 167.19,248.68 168.20,249.12 169.20,248.01 170.20,248.25 171.20,248.90 172.16,248.13 172.20,248.10 173.20,248.46 174.20,248.98 175.20,248.48"/>
<text x="20.50" y="268.90" style="font-size:8.8px" text-anchor="end">2</text>
<text x="20.50" y="250.33" style="font-size:8.8px" text-anchor="end">3</text>
<text x="20.50" y="231.76" style="font-size:8.8px" text-anchor="end">4</text>
<text x="20.50" y="213.20" style="font-size:8.8px" text-anchor="end">5</text>
<text x="20.50" y="194.63" style="font-size:8.8px" text-anchor="end">6</text>
<text x="20.50" y="176.06" style="font-size:8.8px" text-anchor="end">7</text>
<text x="20.50" y="157.50" style="font-size:8.8px" text-anchor="end">8</text>
<text x="23.10" y="276.68" style="font-size:8.8px" text-anchor="middle">0</text>
<text x="53.52" y="276.68" style="font-size:8.8px" text-anchor="middle">0.1</text>
<text x="83.94" y="276.68" style="font-size:8.8px" text-anchor="middle">0.2</text>
<text x="114.36" y="276.68" style="font-size:8.8px" text-anchor="middle">0.3</text>
<text x="144.78" y="276.68" style="font-size:8.8px" text-anchor="middle">0.4</text>
<text x="175.20" y="276.68" style="font-size:8.8px" text-anchor="middle">0.5</text>
<text x="99.15" y="288.50" style="font-size:9.8px" text-anchor="middle">Normalized Frequency</text>
<text transform="translate(12.90,210.10) rotate(-90)" style="font-size:9.8px" text-anchor="middle">Power Spectrum</text>
<text x="170.81" y="167.06" class="pl" style="font-size:15.2px" text-anchor="end">(e)</text>
<line x1="237.06" y1="155.00" x2="237.06" y2="266.50" class="g"/>
<line x1="267.32" y1="155.00" x2="267.32" y2="266.50" class="g"/>
<line x1="297.58" y1="155.00" x2="297.58" y2="266.50" class="g"/>
<line x1="327.84" y1="155.00" x2="327.84" y2="266.50" class="g"/>
<line x1="206.80" y1="247.92" x2="358.10" y2="247.92" class="g"/>
<line x1="206.80" y1="229.33" x2="358.10" y2="229.33" class="g"/>
<line x1="206.80" y1="210.75" x2="358.10" y2="210.75" class="g"/>
<line x1="206.80" y1="192.17" x2="358.10" y2="192.17" class="g"/>
<line x1="206.80" y1="173.58" x2="358.10" y2="173.58" class="g"/>
<line x1="206.80" y1="266.50" x2="206.80" y2="264.60" class="t"/>
<line x1="206.80" y1="155.00" x2="206.80" y2="156.90" class="t"/>
<line x1="237.06" y1="266.50" x2="237.06" y2="264.60" class="t"/>
<line x1="237.06" y1="155.00" x2="237.06" y2="156.90" class="t"/>
<line x1="267.32" y1="266.50" x2="267.32" y2="264.60" class="t"/>
<line x1="267.32" y1="155.00" x2="267.32" y2="156.90" class="t"/>
<line x1="297.58" y1="266.50" x2="297.58" y2="264.60" class="t"/>
<line x1="297.58" y1="155.00" x2="297.58" y2="156.90" class="t"/>
<line x1="327.84" y1="266.50" x2="327.84" y2="264.60" class="t"/>
<line x1="327.84" y1="155.00" x2="327.84" y2="156.90" class="t"/>
<line x1="358.10" y1="266.50" x2="358.10" y2="264.60" class="t"/>
<line x1="358.10" y1="155.00" x2="358.10" y2="156.90" class="t"/>
<line x1="206.80" y1="266.50" x2="208.70" y2="266.50" class="t"/>
<line x1="358.10" y1="266.50" x2="356.20" y2="266.50" class="t"/>
<line x1="206.80" y1="247.92" x2="208.70" y2="247.92" class="t"/>
<line x1="358.10" y1="247.92" x2="356.20" y2="247.92" class="t"/>
<line x1="206.80" y1="229.33" x2="208.70" y2="229.33" class="t"/>
<line x1="358.10" y1="229.33" x2="356.20" y2="229.33" class="t"/>
<line x1="206.80" y1="210.75" x2="208.70" y2="210.75" class="t"/>
<line x1="358.10" y1="210.75" x2="356.20" y2="210.75" class="t"/>
<line x1="206.80" y1="192.17" x2="208.70" y2="192.17" class="t"/>
<line x1="358.10" y1="192.17" x2="356.20" y2="192.17" class="t"/>
<line x1="206.80" y1="173.58" x2="208.70" y2="173.58" class="t"/>
<line x1="358.10" y1="173.58" x2="356.20" y2="173.58" class="t"/>
<line x1="206.80" y1="155.00" x2="208.70" y2="155.00" class="t"/>
<line x1="358.10" y1="155.00" x2="356.20" y2="155.00" class="t"/>
<rect x="206.80" y="155.00" width="151.30" height="111.50" class="bx"/>
<polyline class="c" points="206.80,155.00 207.01,164.81 207.28,170.39 207.71,172.80 207.80,173.19 208.28,177.38 208.80,180.77 209.19,181.35 209.81,182.48 210.01,183.05 210.79,183.88 210.81,183.93 211.49,186.50 211.81,187.41 212.10,188.43 212.40,190.44 212.81,189.88 213.31,188.69 213.81,190.27 213.91,190.71 214.49,192.12 214.82,193.91 215.21,195.67 215.79,192.60 215.82,192.82 216.39,197.20 216.82,194.55 217.00,193.55 217.82,195.25 217.91,195.34 218.81,195.57 218.82,195.57 219.69,195.80 219.83,195.50 220.60,194.87 220.83,195.38 221.51,195.70 221.83,194.93 222.41,194.21 222.83,196.23 222.99,196.94 223.59,198.43 223.83,199.24 224.20,201.00 224.80,199.45 224.84,199.61 225.50,201.71 225.84,202.93 226.17,204.85 226.84,206.41 226.95,206.51 227.84,207.12 227.95,207.14 228.84,209.09 229.25,210.15 229.85,210.32 230.64,211.50 230.85,211.83 231.85,212.47 231.95,212.41 232.85,210.87 233.34,210.94 233.85,211.87 234.64,211.88 234.86,211.75 235.86,212.73 236.03,212.83 236.86,211.10 237.33,210.11 237.86,211.46 238.45,212.71 238.86,214.74 239.33,217.47 239.87,217.62 240.72,216.84 240.87,216.79 241.87,217.91 242.02,217.93 242.87,219.95 243.41,221.45 243.87,221.36 244.72,220.46 244.88,220.51 245.88,221.72 246.11,222.04 246.88,223.59 247.41,223.69 247.88,222.90 248.83,223.74 248.88,223.88 249.89,225.23 250.10,225.49 250.89,225.30 251.52,224.90 251.89,225.49 252.10,226.15 252.89,227.17 253.49,227.18 253.89,227.25 254.79,228.01 254.90,227.95 255.90,227.74 256.21,227.13 256.90,227.53 257.49,228.42 257.90,228.97 258.90,230.98 258.91,230.98 259.91,231.47 260.18,231.80 260.91,232.56 261.60,232.84 261.91,233.19 262.90,233.84 262.91,233.83 263.91,232.99 264.29,233.02 264.92,233.57 265.60,233.64 265.92,233.71 266.92,233.96 266.99,234.02 267.86,234.53 267.92,234.61 268.92,235.38 269.93,235.98 269.98,236.10 270.93,238.55 270.98,238.59 271.93,236.41 271.98,236.39 272.93,239.31 273.46,239.88 273.93,239.26 274.94,238.99 274.98,238.98 275.94,239.63 276.46,239.94 276.94,240.39 277.94,240.73 277.97,240.75 278.94,241.23 279.55,241.32 279.95,241.49 280.95,242.50 281.06,242.50 281.95,242.56 282.54,243.29 282.95,243.69 283.95,243.78 284.05,243.82 284.95,243.85 285.54,243.48 285.96,243.37 286.96,244.79 287.05,244.78 287.96,244.64 288.53,244.44 288.96,244.49 289.96,245.87 290.14,246.02 290.97,246.51 291.62,246.39 291.97,246.07 292.97,245.91 293.13,245.78 293.97,245.75 294.61,246.40 294.97,246.63 295.98,246.23 296.13,246.20 296.98,246.17 297.61,246.16 297.98,246.28 298.98,247.52 299.21,247.42 299.98,246.82 300.70,247.50 300.99,247.66 301.99,247.63 302.21,247.54 302.99,247.87 303.69,248.04 303.99,247.99 304.99,248.41 305.21,248.40 306.00,247.89 306.69,247.62 307.00,247.69 308.00,248.00 308.20,248.09 309.00,248.18 310.00,247.37 310.29,247.74 311.01,248.80 312.01,248.73 312.29,248.64 313.01,248.42 313.80,248.72 314.01,248.81 315.01,249.46 316.02,249.06 316.58,249.16 317.02,249.20 318.02,249.89 319.02,248.88 319.97,248.84 320.02,248.84 321.03,248.92 322.03,249.56 323.03,249.39 323.36,249.55 324.03,249.80 325.03,249.30 326.04,249.54 326.87,249.20 327.04,249.16 328.04,249.51 329.04,249.17 330.04,249.35 330.26,249.34 331.05,249.28 332.05,250.27 333.05,250.39 333.65,249.99 334.05,249.72 335.05,250.10 336.06,249.83 337.04,249.92 337.06,249.92 338.06,249.90 339.06,249.61 340.06,249.67 340.43,249.66 341.07,249.71 342.07,250.21 343.07,249.42 343.82,249.85 344.07,250.02 345.07,249.87 346.08,250.28 347.08,250.15 347.21,250.22 348.08,250.62 349.08,250.71 350.08,250.84 350.63,251.05 351.09,251.14 352.09,251.05 353.09,250.86 354.01,250.80 354.09,250.79 355.09,250.97 356.10,249.83 357.10,250.79 358.10,250.48"/>
<text x="204.20" y="269.60" style="font-size:8.8px" text-anchor="end">2</text>
<text x="204.20" y="251.01" style="font-size:8.8px" text-anchor="end">3</text>
<text x="204.20" y="232.43" style="font-size:8.8px" text-anchor="end">4</text>
<text x="204.20" y="213.85" style="font-size:8.8px" text-anchor="end">5</text>
<text x="204.20" y="195.26" style="font-size:8.8px" text-anchor="end">6</text>
<text x="204.20" y="176.68" style="font-size:8.8px" text-anchor="end">7</text>
<text x="204.20" y="158.10" style="font-size:8.8px" text-anchor="end">8</text>
<text x="206.80" y="277.38" style="font-size:8.8px" text-anchor="middle">0</text>
<text x="237.06" y="277.38" style="font-size:8.8px" text-anchor="middle">0.1</text>
<text x="267.32" y="277.38" style="font-size:8.8px" text-anchor="middle">0.2</text>
<text x="297.58" y="277.38" style="font-size:8.8px" text-anchor="middle">0.3</text>
<text x="327.84" y="277.38" style="font-size:8.8px" text-anchor="middle">0.4</text>
<text x="358.10" y="277.38" style="font-size:8.8px" text-anchor="middle">0.5</text>
<text x="282.45" y="289.20" style="font-size:9.8px" text-anchor="middle">Normalized Frequency</text>
<text transform="translate(196.60,210.75) rotate(-90)" style="font-size:9.8px" text-anchor="middle">Power Spectrum</text>
<text x="354.55" y="168.94" class="pl" style="font-size:16.3px" text-anchor="end">(f)</text>
<line x1="420.10" y1="154.90" x2="420.10" y2="266.50" class="g"/>
<line x1="450.40" y1="154.90" x2="450.40" y2="266.50" class="g"/>
<line x1="480.70" y1="154.90" x2="480.70" y2="266.50" class="g"/>
<line x1="511.00" y1="154.90" x2="511.00" y2="266.50" class="g"/>
<line x1="389.80" y1="247.90" x2="541.30" y2="247.90" class="g"/>
<line x1="389.80" y1="229.30" x2="541.30" y2="229.30" class="g"/>
<line x1="389.80" y1="210.70" x2="541.30" y2="210.70" class="g"/>
<line x1="389.80" y1="192.10" x2="541.30" y2="192.10" class="g"/>
<line x1="389.80" y1="173.50" x2="541.30" y2="173.50" class="g"/>
<line x1="389.80" y1="266.50" x2="389.80" y2="264.60" class="t"/>
<line x1="389.80" y1="154.90" x2="389.80" y2="156.80" class="t"/>
<line x1="420.10" y1="266.50" x2="420.10" y2="264.60" class="t"/>
<line x1="420.10" y1="154.90" x2="420.10" y2="156.80" class="t"/>
<line x1="450.40" y1="266.50" x2="450.40" y2="264.60" class="t"/>
<line x1="450.40" y1="154.90" x2="450.40" y2="156.80" class="t"/>
<line x1="480.70" y1="266.50" x2="480.70" y2="264.60" class="t"/>
<line x1="480.70" y1="154.90" x2="480.70" y2="156.80" class="t"/>
<line x1="511.00" y1="266.50" x2="511.00" y2="264.60" class="t"/>
<line x1="511.00" y1="154.90" x2="511.00" y2="156.80" class="t"/>
<line x1="541.30" y1="266.50" x2="541.30" y2="264.60" class="t"/>
<line x1="541.30" y1="154.90" x2="541.30" y2="156.80" class="t"/>
<line x1="389.80" y1="266.50" x2="391.70" y2="266.50" class="t"/>
<line x1="541.30" y1="266.50" x2="539.40" y2="266.50" class="t"/>
<line x1="389.80" y1="247.90" x2="391.70" y2="247.90" class="t"/>
<line x1="541.30" y1="247.90" x2="539.40" y2="247.90" class="t"/>
<line x1="389.80" y1="229.30" x2="391.70" y2="229.30" class="t"/>
<line x1="541.30" y1="229.30" x2="539.40" y2="229.30" class="t"/>
<line x1="389.80" y1="210.70" x2="391.70" y2="210.70" class="t"/>
<line x1="541.30" y1="210.70" x2="539.40" y2="210.70" class="t"/>
<line x1="389.80" y1="192.10" x2="391.70" y2="192.10" class="t"/>
<line x1="541.30" y1="192.10" x2="539.40" y2="192.10" class="t"/>
<line x1="389.80" y1="173.50" x2="391.70" y2="173.50" class="t"/>
<line x1="541.30" y1="173.50" x2="539.40" y2="173.50" class="t"/>
<line x1="389.80" y1="154.90" x2="391.70" y2="154.90" class="t"/>
<line x1="541.30" y1="154.90" x2="539.40" y2="154.90" class="t"/>
<rect x="389.80" y="154.90" width="151.50" height="111.60" class="bx"/>
<polyline class="c" points="389.80,154.90 390.01,165.08 390.28,170.97 390.71,173.85 390.80,174.35 391.28,177.20 391.81,179.13 392.19,180.57 392.81,183.09 393.01,183.76 393.80,184.99 393.81,185.04 394.50,188.04 394.82,189.14 395.10,189.80 395.41,191.44 395.82,190.36 396.31,189.01 396.82,190.44 396.92,190.92 397.50,192.58 397.83,194.52 398.22,196.38 398.80,193.45 398.83,193.68 399.41,197.49 399.83,194.41 400.01,193.28 400.84,194.36 400.92,194.48 401.83,195.01 401.84,195.02 402.71,196.52 402.84,196.41 403.62,194.86 403.85,195.10 404.53,195.90 404.85,195.36 405.43,195.38 405.85,197.94 406.01,198.62 406.62,199.96 406.86,200.71 407.22,202.37 407.83,200.67 407.86,200.82 408.53,203.24 408.86,204.61 409.19,206.19 409.87,207.04 409.98,207.04 410.87,206.85 410.98,207.00 411.87,209.96 412.28,210.70 412.88,210.41 413.68,210.78 413.88,210.91 414.88,211.68 414.98,211.86 415.89,212.55 416.37,211.76 416.89,211.77 417.68,212.46 417.89,212.52 418.90,212.96 419.07,213.21 419.90,212.16 420.37,210.88 420.90,211.90 421.49,213.53 421.91,215.81 422.37,218.24 422.91,218.05 423.77,216.99 423.91,216.89 424.92,218.14 425.07,218.12 425.92,219.94 426.46,221.07 426.92,220.66 427.77,220.92 427.93,221.18 428.93,221.89 429.16,222.08 429.93,223.21 430.46,224.05 430.94,223.94 431.89,224.28 431.94,224.39 432.94,225.23 433.16,225.41 433.95,224.94 434.58,225.81 434.95,227.13 435.16,227.37 435.95,226.80 436.55,227.25 436.96,227.61 437.86,228.44 437.96,228.38 438.96,226.26 439.28,226.15 439.97,227.64 440.55,229.10 440.97,230.06 441.97,230.93 441.98,230.94 442.98,231.30 443.25,231.56 443.98,232.09 444.67,232.10 444.98,232.33 445.98,233.79 445.99,233.79 446.99,233.07 447.37,232.79 447.99,232.86 448.67,233.76 449.00,234.22 450.00,234.39 450.07,234.44 450.95,234.87 451.00,234.94 452.01,235.66 453.01,237.17 453.07,237.22 454.01,238.39 454.07,238.46 455.02,236.90 455.07,236.80 456.02,238.28 456.55,239.30 457.02,239.08 458.03,239.70 458.07,239.68 459.03,239.84 459.55,239.73 460.03,239.81 461.04,241.60 461.07,241.60 462.04,241.36 462.64,241.49 463.04,241.67 464.05,241.76 464.16,241.86 465.05,242.61 465.64,243.22 466.05,243.53 467.05,243.91 467.16,243.94 468.06,243.90 468.64,243.51 469.06,243.39 470.06,244.49 470.16,244.52 471.07,244.71 471.64,244.71 472.07,244.91 473.07,245.78 473.25,245.90 474.08,246.24 474.73,246.70 475.08,246.69 476.08,245.92 476.25,245.88 477.09,246.33 477.73,246.20 478.09,245.99 479.09,246.18 479.25,246.21 480.10,246.53 480.73,246.45 481.10,246.53 482.10,247.36 482.34,247.35 483.11,247.06 483.82,247.42 484.11,247.46 485.11,247.00 485.34,247.10 486.12,248.10 486.82,248.14 487.12,248.04 488.12,249.00 488.34,249.08 489.13,248.87 489.82,248.19 490.13,248.08 491.13,248.54 491.34,248.51 492.14,248.14 493.14,247.34 493.43,247.61 494.14,248.44 495.15,248.46 495.43,248.41 496.15,248.29 496.94,248.31 497.15,248.33 498.16,248.76 499.16,248.97 499.73,248.91 500.16,248.83 501.17,249.00 502.17,249.63 503.12,249.43 503.17,249.42 504.18,249.43 505.18,249.85 506.18,249.47 506.52,249.61 507.19,249.82 508.19,249.16 509.19,249.37 510.03,249.35 510.20,249.38 511.20,249.71 512.20,249.67 513.21,250.39 513.42,250.35 514.21,250.17 515.21,249.74 516.22,250.61 516.82,250.06 517.22,249.69 518.22,250.59 519.23,249.83 520.21,250.40 520.23,250.40 521.23,249.82 522.24,249.98 523.24,250.46 523.60,250.12 524.24,249.58 525.25,249.57 526.25,250.11 527.00,250.20 527.25,250.26 528.26,250.39 529.26,250.82 530.26,250.32 530.39,250.41 531.27,250.96 532.27,250.91 533.27,251.25 533.82,251.28 534.28,251.24 535.28,251.39 536.28,250.53 537.21,250.89 537.29,250.92 538.29,250.47 539.29,250.68 540.30,250.81 541.30,250.61"/>
<text x="387.20" y="269.60" style="font-size:8.8px" text-anchor="end">2</text>
<text x="387.20" y="251.00" style="font-size:8.8px" text-anchor="end">3</text>
<text x="387.20" y="232.40" style="font-size:8.8px" text-anchor="end">4</text>
<text x="387.20" y="213.80" style="font-size:8.8px" text-anchor="end">5</text>
<text x="387.20" y="195.20" style="font-size:8.8px" text-anchor="end">6</text>
<text x="387.20" y="176.60" style="font-size:8.8px" text-anchor="end">7</text>
<text x="387.20" y="158.00" style="font-size:8.8px" text-anchor="end">8</text>
<text x="389.80" y="277.38" style="font-size:8.8px" text-anchor="middle">0</text>
<text x="420.10" y="277.38" style="font-size:8.8px" text-anchor="middle">0.1</text>
<text x="450.40" y="277.38" style="font-size:8.8px" text-anchor="middle">0.2</text>
<text x="480.70" y="277.38" style="font-size:8.8px" text-anchor="middle">0.3</text>
<text x="511.00" y="277.38" style="font-size:8.8px" text-anchor="middle">0.4</text>
<text x="541.30" y="277.38" style="font-size:8.8px" text-anchor="middle">0.5</text>
<text x="465.55" y="289.20" style="font-size:9.8px" text-anchor="middle">Normalized Frequency</text>
<text transform="translate(379.60,210.70) rotate(-90)" style="font-size:9.8px" text-anchor="middle">Power Spectrum</text>
<text x="537.70" y="169.40" class="pl" style="font-size:15.0px" text-anchor="end">(g)</text>
<line x1="602.84" y1="154.70" x2="602.84" y2="266.30" class="g"/>
<line x1="633.08" y1="154.70" x2="633.08" y2="266.30" class="g"/>
<line x1="663.32" y1="154.70" x2="663.32" y2="266.30" class="g"/>
<line x1="693.56" y1="154.70" x2="693.56" y2="266.30" class="g"/>
<line x1="572.60" y1="247.70" x2="723.80" y2="247.70" class="g"/>
<line x1="572.60" y1="229.10" x2="723.80" y2="229.10" class="g"/>
<line x1="572.60" y1="210.50" x2="723.80" y2="210.50" class="g"/>
<line x1="572.60" y1="191.90" x2="723.80" y2="191.90" class="g"/>
<line x1="572.60" y1="173.30" x2="723.80" y2="173.30" class="g"/>
<line x1="572.60" y1="266.30" x2="572.60" y2="264.40" class="t"/>
<line x1="572.60" y1="154.70" x2="572.60" y2="156.60" class="t"/>
<line x1="602.84" y1="266.30" x2="602.84" y2="264.40" class="t"/>
<line x1="602.84" y1="154.70" x2="602.84" y2="156.60" class="t"/>
<line x1="633.08" y1="266.30" x2="633.08" y2="264.40" class="t"/>
<line x1="633.08" y1="154.70" x2="633.08" y2="156.60" class="t"/>
<line x1="663.32" y1="266.30" x2="663.32" y2="264.40" class="t"/>
<line x1="663.32" y1="154.70" x2="663.32" y2="156.60" class="t"/>
<line x1="693.56" y1="266.30" x2="693.56" y2="264.40" class="t"/>
<line x1="693.56" y1="154.70" x2="693.56" y2="156.60" class="t"/>
<line x1="723.80" y1="266.30" x2="723.80" y2="264.40" class="t"/>
<line x1="723.80" y1="154.70" x2="723.80" y2="156.60" class="t"/>
<line x1="572.60" y1="266.30" x2="574.50" y2="266.30" class="t"/>
<line x1="723.80" y1="266.30" x2="721.90" y2="266.30" class="t"/>
<line x1="572.60" y1="247.70" x2="574.50" y2="247.70" class="t"/>
<line x1="723.80" y1="247.70" x2="721.90" y2="247.70" class="t"/>
<line x1="572.60" y1="229.10" x2="574.50" y2="229.10" class="t"/>
<line x1="723.80" y1="229.10" x2="721.90" y2="229.10" class="t"/>
<line x1="572.60" y1="210.50" x2="574.50" y2="210.50" class="t"/>
<line x1="723.80" y1="210.50" x2="721.90" y2="210.50" class="t"/>
<line x1="572.60" y1="191.90" x2="574.50" y2="191.90" class="t"/>
<line x1="723.80" y1="191.90" x2="721.90" y2="191.90" class="t"/>
<line x1="572.60" y1="173.30" x2="574.50" y2="173.30" class="t"/>
<line x1="723.80" y1="173.30" x2="721.90" y2="173.30" class="t"/>
<line x1="572.60" y1="154.70" x2="574.50" y2="154.70" class="t"/>
<line x1="723.80" y1="154.70" x2="721.90" y2="154.70" class="t"/>
<rect x="572.60" y="154.70" width="151.20" height="111.60" class="bx"/>
<polyline class="c" points="572.60,154.70 572.81,165.33 573.08,171.55 573.51,174.96 573.60,175.57 574.08,178.21 574.60,179.93 574.99,180.90 575.60,182.68 575.81,183.70 576.59,186.30 576.61,186.37 577.29,188.06 577.61,188.55 577.89,189.58 578.19,191.61 578.61,191.07 579.10,189.52 579.61,190.73 579.71,191.09 580.28,192.00 580.61,193.51 581.01,195.22 581.58,192.08 581.61,192.30 582.19,196.78 582.61,194.21 582.79,193.16 583.61,194.62 583.70,194.68 584.61,194.51 584.62,194.51 585.48,195.07 585.62,194.82 586.39,194.79 586.62,195.48 587.30,196.05 587.62,195.39 588.20,194.92 588.62,197.12 588.78,197.73 589.38,198.86 589.62,199.52 589.99,201.38 590.59,199.99 590.62,200.16 591.29,202.61 591.63,204.00 591.95,205.34 592.63,205.71 592.74,205.83 593.63,206.55 593.74,206.75 594.63,210.16 595.04,210.80 595.63,210.34 596.43,210.88 596.63,211.06 597.63,211.70 597.73,211.75 598.63,211.22 599.12,210.86 599.64,211.34 600.42,213.11 600.64,213.47 601.64,212.17 601.81,212.49 602.64,211.79 603.11,211.12 603.64,212.83 604.23,213.62 604.64,215.33 605.11,217.42 605.64,216.85 606.50,217.50 606.65,217.69 607.65,216.92 607.80,216.96 608.65,219.12 609.19,221.16 609.65,221.53 610.49,221.83 610.65,222.11 611.65,222.43 611.88,222.37 612.65,222.66 613.18,224.01 613.65,224.35 614.60,224.42 614.66,224.51 615.66,225.89 615.87,226.07 616.66,225.57 617.29,225.57 617.66,226.41 617.87,226.79 618.66,226.78 619.26,226.99 619.66,227.20 620.56,228.51 620.66,228.50 621.66,227.23 621.98,227.08 622.67,228.48 623.25,229.11 623.67,229.48 624.67,231.47 624.67,231.47 625.67,232.07 625.94,231.84 626.67,231.06 627.36,231.97 627.67,232.60 628.66,233.47 628.67,233.47 629.68,232.25 630.06,232.39 630.68,233.12 631.36,233.68 631.68,233.97 632.68,234.43 632.75,234.49 633.62,234.97 633.68,235.05 634.68,235.25 635.68,236.81 635.74,236.81 636.68,237.41 636.74,237.54 637.69,236.94 637.74,236.87 638.69,238.78 639.22,239.86 639.69,239.70 640.69,238.91 640.73,238.90 641.69,239.43 642.21,239.38 642.69,239.51 643.69,241.01 643.72,241.03 644.70,241.05 645.30,240.88 645.70,240.87 646.70,242.33 646.81,242.37 647.70,242.66 648.29,242.79 648.70,242.78 649.70,243.55 649.80,243.63 650.70,244.04 651.28,244.35 651.70,244.73 652.71,243.42 652.80,243.52 653.71,244.42 654.28,244.39 654.71,244.55 655.71,245.90 655.88,245.87 656.71,245.48 657.36,246.04 657.71,246.08 658.71,245.88 658.87,245.88 659.72,246.49 660.36,246.43 660.72,246.26 661.72,246.57 661.87,246.56 662.72,246.59 663.35,246.98 663.72,247.34 664.72,247.40 664.95,247.45 665.72,247.37 666.43,247.81 666.72,247.89 667.73,247.17 667.95,247.07 668.73,247.40 669.43,248.08 669.73,248.25 670.73,248.61 670.94,248.66 671.73,248.36 672.42,247.73 672.73,247.63 673.73,248.74 673.93,248.71 674.74,248.29 675.74,248.24 676.02,248.16 676.74,248.09 677.74,248.26 678.02,248.38 678.74,248.73 679.53,247.98 679.74,247.79 680.74,248.63 681.74,249.34 682.31,249.37 682.75,249.35 683.75,249.13 684.75,249.06 685.70,249.79 685.75,249.83 686.75,249.19 687.75,249.95 688.75,249.81 689.08,249.64 689.75,249.24 690.76,248.91 691.76,249.45 692.59,249.46 692.76,249.49 693.76,249.08 694.76,249.97 695.76,249.63 695.98,249.66 696.76,249.71 697.77,249.51 698.77,249.80 699.37,249.94 699.77,250.04 700.77,249.81 701.77,250.43 702.75,249.87 702.77,249.85 703.77,250.28 704.77,250.30 705.78,250.07 706.14,250.00 706.78,249.95 707.78,249.79 708.78,250.15 709.53,249.96 709.78,249.92 710.78,250.01 711.78,250.52 712.79,250.97 712.91,250.91 713.79,250.48 714.79,250.79 715.79,251.66 716.33,251.53 716.79,251.34 717.79,250.92 718.79,251.35 719.72,251.09 719.79,251.07 720.80,251.30 721.80,250.55 722.80,250.51 723.80,250.43"/>
<text x="570.00" y="269.40" style="font-size:8.8px" text-anchor="end">2</text>
<text x="570.00" y="250.80" style="font-size:8.8px" text-anchor="end">3</text>
<text x="570.00" y="232.20" style="font-size:8.8px" text-anchor="end">4</text>
<text x="570.00" y="213.60" style="font-size:8.8px" text-anchor="end">5</text>
<text x="570.00" y="195.00" style="font-size:8.8px" text-anchor="end">6</text>
<text x="570.00" y="176.40" style="font-size:8.8px" text-anchor="end">7</text>
<text x="570.00" y="157.80" style="font-size:8.8px" text-anchor="end">8</text>
<text x="572.60" y="277.18" style="font-size:8.8px" text-anchor="middle">0</text>
<text x="602.84" y="277.18" style="font-size:8.8px" text-anchor="middle">0.1</text>
<text x="633.08" y="277.18" style="font-size:8.8px" text-anchor="middle">0.2</text>
<text x="663.32" y="277.18" style="font-size:8.8px" text-anchor="middle">0.3</text>
<text x="693.56" y="277.18" style="font-size:8.8px" text-anchor="middle">0.4</text>
<text x="723.80" y="277.18" style="font-size:8.8px" text-anchor="middle">0.5</text>
<text x="648.20" y="289.00" style="font-size:9.8px" text-anchor="middle">Normalized Frequency</text>
<text transform="translate(562.40,210.50) rotate(-90)" style="font-size:9.8px" text-anchor="middle">Power Spectrum</text>
<text x="720.80" y="168.00" class="pl" style="font-size:15.0px" text-anchor="end">(h)</text>
</svg>
</body></html>
